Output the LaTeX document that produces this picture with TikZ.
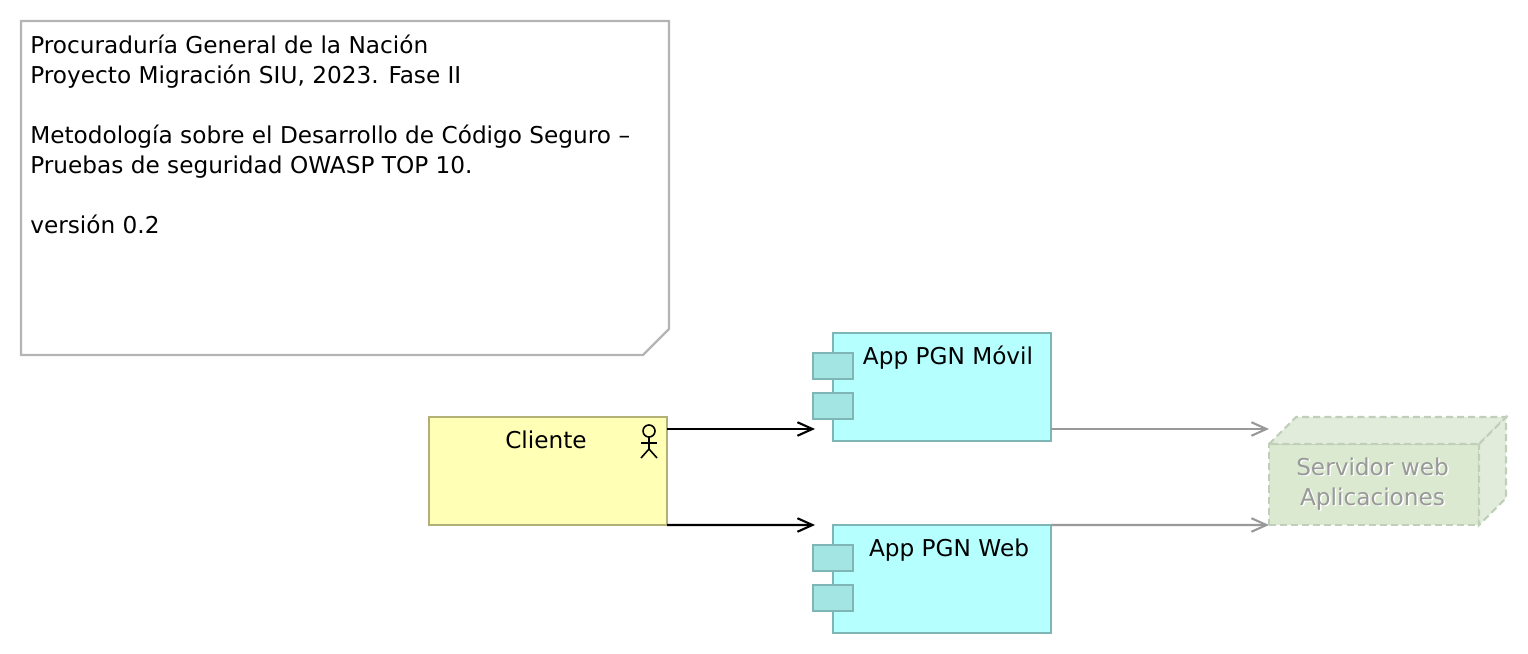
\documentclass[tikz,border=0pt]{standalone}
\usepackage{fontspec}
\setmainfont{DejaVu Sans}
\usepackage{tikz}
\usetikzlibrary{arrows.meta,calc}
\definecolor{notaborde}{HTML}{B4B4B4}
\definecolor{clientefondo}{HTML}{FFFFB5}
\definecolor{clienteborde}{HTML}{B2B077}
\definecolor{appfondo}{HTML}{B5FFFF}
\definecolor{appborde}{HTML}{7FB5B5}
\definecolor{tabfondo}{HTML}{A2E5E3}
\definecolor{servfrente}{HTML}{DAE9D0}
\definecolor{servtapa}{HTML}{E2ECDB}
\definecolor{servborde}{HTML}{C0CFB9}
\definecolor{gristexto}{HTML}{999999}
\tikzset{
  textoarq/.style={inner sep=0pt, anchor=center, font=\fontsize{13.2}{17}\selectfont, align=left},
  cajacliente/.style={draw=clienteborde, fill=clientefondo, line width=1.3pt, minimum width=4.76cm, minimum height=2.16cm, inner sep=0pt, outer sep=0pt, anchor=north west},
  cajaapp/.style={draw=appborde, fill=appfondo, line width=1.3pt, minimum width=4.36cm, minimum height=2.16cm, inner sep=0pt, outer sep=0pt, anchor=north west},
  tabapp/.style={draw=appborde, fill=tabfondo, line width=1.3pt, minimum width=0.8cm, minimum height=0.52cm, inner sep=0pt, outer sep=0pt, anchor=north west},
  servlinea/.style={draw=servborde, dash pattern=on 4pt off 2.3pt, line width=1.2pt},
  servfrontal/.style={servlinea, fill=servfrente, minimum width=4.2cm, minimum height=1.62cm, inner sep=0pt, outer sep=0pt, anchor=north west},
  flecha/.style={->,>={Straight Barb[length=0.3cm,width=0.27cm]},black,line width=1.2pt},
  flechagris/.style={->,>={Straight Barb[length=0.3cm,width=0.27cm]},gristexto,line width=1.2pt}
}
\begin{document}
\begin{tikzpicture}
\useasboundingbox (0cm,0cm) rectangle (30.56cm,-13.08cm);
% nota
\draw[notaborde,line width=1.3pt,fill=white] (0.42cm,-0.42cm) -- (13.38cm,-0.42cm) -- (13.38cm,-6.58cm) -- (12.86cm,-7.1cm) -- (0.42cm,-7.1cm) -- cycle;
\node[textoarq,anchor=north west] (nota) at (0.6cm,-0.7cm) {Procuraduría General de la Nación\\Proyecto Migración SIU, 2023. Fase II\\[17pt]Metodología sobre el Desarrollo de Código Seguro –\\Pruebas de seguridad OWASP TOP 10.\\[17pt]versión 0.2};
% cliente
\node[cajacliente] (cliente) at (8.58cm,-8.34cm) {};
\node[textoarq] (clientetxt) at (10.92cm,-8.8cm) {Cliente};
\draw[black,line width=0.9pt] (12.98cm,-8.62cm) circle (0.12cm);
\draw[black,line width=0.9pt] (12.98cm,-8.74cm) -- (12.98cm,-8.98cm) -- (12.82cm,-9.16cm);
\draw[black,line width=0.9pt] (12.98cm,-8.98cm) -- (13.14cm,-9.16cm);
\draw[black,line width=0.9pt] (12.82cm,-8.86cm) -- (13.14cm,-8.86cm);
% aplicaciones
\node[cajaapp] (movil) at (16.66cm,-6.66cm) {};
\node[tabapp] (movilA) at (16.26cm,-7.06cm) {};
\node[tabapp] (movilB) at (16.26cm,-7.86cm) {};
\node[textoarq] (moviltxt) at (18.96cm,-7.16cm) {App PGN Móvil};
\node[cajaapp] (web) at (16.66cm,-10.5cm) {};
\node[tabapp] (webA) at (16.26cm,-10.9cm) {};
\node[tabapp] (webB) at (16.26cm,-11.7cm) {};
\node[textoarq] (webtxt) at (18.98cm,-11cm) {App PGN Web};
% servidor
\node[servfrontal] (serv) at (25.38cm,-8.88cm) {};
\draw[servlinea,fill=servtapa] (serv.north west) -- ++(0.54cm,0.54cm) -- ++(4.2cm,0cm) -- (serv.north east) -- cycle;
\draw[servlinea,fill=servtapa] (serv.north east) -- ++(0.54cm,0.54cm) -- ++(0cm,-1.62cm) -- (serv.south east) -- cycle;
\node[textoarq,align=center,text=white] at (27.48cm,-9.71cm) {Servidor web\\Aplicaciones};
\node[textoarq,align=center,text=gristexto] (servtxt) at (27.45cm,-9.69cm) {Servidor web\\Aplicaciones};
% conexiones
\coordinate (movilin) at (16.3cm,-8.58cm);
\coordinate (webin) at (16.3cm,-10.5cm);
\coordinate (servA) at (serv.north west |- movilin);
\draw[flecha] (cliente.east |- movilin) -- (movilin);
\draw[flecha] (cliente.south east) -- (webin);
\draw[flechagris] (movil.east |- movilin) -- (servA);
\draw[flechagris] (web.north east) -- (serv.south west);
\end{tikzpicture}
\end{document}
